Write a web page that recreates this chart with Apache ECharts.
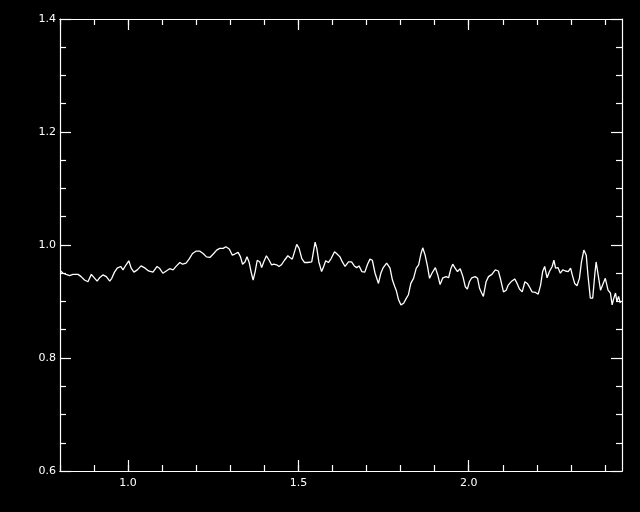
<!DOCTYPE html>
<html>
<head>
<meta charset="utf-8">
<script src="https://cdn.jsdelivr.net/npm/echarts@6/dist/echarts.min.js"></script>
<style>html,body{margin:0;padding:0;background:#000;}#c{width:640px;height:512px;}</style>
</head>
<body>
<div id="c"></div>
<script>
const wavelength = [0.802,0.809,0.818,0.828,0.838,0.853,0.862,0.872,0.882,0.892,0.902,0.909,0.916,0.926,0.936,0.946,0.952,0.960,0.968,0.978,0.985,0.994,1.002,1.009,1.017,1.027,1.038,1.050,1.060,1.073,1.085,1.092,1.102,1.112,1.122,
1.132,1.142,1.152,1.160,1.170,1.179,1.189,1.199,1.211,1.220,1.230,1.240,1.250,1.260,1.269,1.279,1.287,1.297,1.306,1.313,1.323,1.330,1.336,1.343,1.349,1.355,1.362,1.367,1.373,1.379,1.387,1.392,1.398,1.406,1.414,1.421,1.428,1.436,1.443,1.450,
1.459,1.469,1.475,1.482,1.490,1.495,1.502,1.510,1.518,1.527,1.539,1.544,1.549,1.554,1.560,1.568,1.573,1.580,1.588,1.596,1.606,1.612,1.622,1.629,1.637,1.647,1.656,1.664,1.671,1.678,1.686,1.695,1.703,1.710,1.717,1.725,1.735,1.742,1.749,1.759,1.769,1.776,1.783,
1.787,1.794,1.801,1.809,1.817,1.823,1.830,1.838,1.846,1.853,1.860,1.865,1.872,1.879,1.885,1.892,1.902,1.909,1.916,1.924,1.934,1.941,1.948,1.953,1.960,1.967,1.975,1.983,1.990,1.996,2.002,2.009,2.019,2.026,2.032,2.038,2.043,2.051,2.058,2.068,2.078,2.087,2.094,2.102,2.110,
2.116,2.126,2.135,2.142,2.149,2.157,2.165,2.172,2.178,2.186,2.196,2.204,2.211,2.217,2.223,2.230,2.237,2.245,2.250,2.255,2.262,2.269,2.276,2.284,2.292,2.299,2.304,2.311,2.318,2.325,2.331,2.338,2.345,2.350,2.357,2.364,2.370,2.374,2.380,2.387,2.393,2.401,2.409,2.416,2.421,2.426,2.431,2.435,2.440,2.445];
const flux = [0.954,0.950,0.948,0.946,0.948,0.948,0.944,0.938,0.935,0.948,0.941,0.936,0.942,0.947,0.944,0.936,0.941,0.952,0.959,0.962,0.956,0.965,0.972,0.959,0.952,0.956,0.963,0.959,0.954,0.952,0.962,0.959,0.950,0.954,0.958,
0.956,0.963,0.969,0.966,0.968,0.975,0.985,0.989,0.989,0.985,0.979,0.978,0.984,0.991,0.994,0.994,0.997,0.993,0.982,0.984,0.987,0.979,0.966,0.970,0.979,0.970,0.950,0.938,0.953,0.973,0.970,0.960,0.970,0.981,0.973,0.965,0.966,0.965,0.962,0.965,
0.973,0.981,0.978,0.975,0.991,1.001,0.994,0.976,0.969,0.969,0.970,0.988,1.005,0.994,0.970,0.953,0.960,0.972,0.969,0.976,0.988,0.985,0.979,0.970,0.962,0.970,0.970,0.963,0.960,0.963,0.953,0.952,0.966,0.975,0.973,0.950,0.932,0.950,0.960,0.968,0.959,0.938,0.926,
0.920,0.903,0.894,0.897,0.906,0.912,0.932,0.941,0.959,0.965,0.985,0.995,0.982,0.962,0.941,0.950,0.960,0.947,0.930,0.942,0.944,0.942,0.959,0.966,0.959,0.953,0.958,0.944,0.926,0.922,0.935,0.942,0.944,0.941,0.923,0.915,0.909,0.935,0.944,0.948,0.956,0.954,0.938,0.917,0.920,
0.929,0.936,0.940,0.932,0.922,0.917,0.935,0.932,0.926,0.917,0.916,0.913,0.929,0.953,0.962,0.942,0.953,0.962,0.973,0.959,0.960,0.950,0.956,0.954,0.953,0.959,0.947,0.932,0.928,0.941,0.970,0.991,0.982,0.947,0.906,0.906,0.947,0.970,0.947,0.920,0.929,0.941,0.920,0.915,0.894,0.906,0.915,0.900,0.909,0.897];
const xMajorTicks = [1.0, 1.5, 2.0];
const xMinorTicks = [0.8,0.9,1.0,1.1,1.2,1.3,1.4,1.5,1.6,1.7,1.8,1.9,2.0,2.1,2.2,2.3,2.4];
const xRange = [0.8, 2.45];
const yRange = [0.6, 1.4];
const yStep = 0.2;

const chart = echarts.init(document.getElementById('c'));
const lineStyle = {color: '#fff', width: 1.2};
const font = {color: '#fff', fontSize: 11, fontFamily: 'DejaVu Sans'};
function xAxis(pos, values, len, labels) {
  return {
    type: 'value', position: pos, min: xRange[0], max: xRange[1],
    axisLine: {show: true, onZero: false, lineStyle: lineStyle},
    axisTick: {show: true, inside: true, length: len, customValues: values, lineStyle: lineStyle},
    axisLabel: labels ? Object.assign({show: true, customValues: values, margin: 7, formatter: v => v.toFixed(1)}, font) : {show: false},
    splitLine: {show: false}
  };
}
function yAxis(pos, labels) {
  return {
    type: 'value', position: pos, min: yRange[0], max: yRange[1], interval: yStep,
    axisLine: {show: true, onZero: false, lineStyle: lineStyle},
    axisTick: {show: true, inside: true, length: 11, lineStyle: lineStyle},
    minorTick: {show: true, splitNumber: 4, length: 6, lineStyle: lineStyle},
    axisLabel: labels ? Object.assign({show: true, margin: 4, formatter: v => v.toFixed(1)}, font) : {show: false},
    splitLine: {show: false}, minorSplitLine: {show: false}
  };
}
chart.setOption({
  backgroundColor: '#000',
  animation: false,
  grid: {left: 60, right: 18, top: 19, bottom: 41, containLabel: false},
  xAxis: [
    xAxis('bottom', xMajorTicks, 11, true),
    xAxis('bottom', xMinorTicks, 6, false),
    xAxis('top', xMajorTicks, 11, false),
    xAxis('top', xMinorTicks, 6, false)
  ],
  yAxis: [yAxis('left', true), yAxis('right', false)],
  series: [{
    type: 'line', xAxisIndex: 0, yAxisIndex: 0,
    data: wavelength.map((w, i) => [w, flux[i]]),
    showSymbol: false, symbol: 'none',
    lineStyle: {color: '#fff', width: 1.3},
    clip: true
  }]
});
</script>
</body>
</html>
